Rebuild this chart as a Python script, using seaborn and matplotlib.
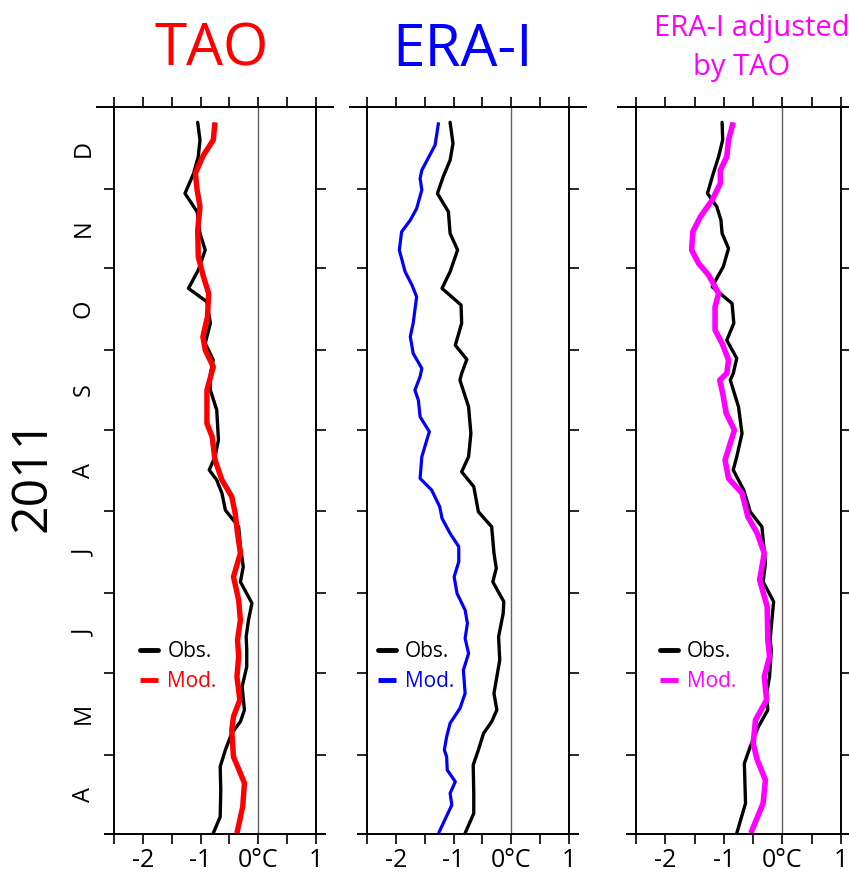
import numpy as np
import pandas as pd
import matplotlib
matplotlib.use("Agg")
import matplotlib.pyplot as plt
import seaborn as sns

# ----------------------------------------------------------
# DATA  (y = days since 1 Apr 2011, x = SST anomaly in degC)
# ----------------------------------------------------------

tao_obs_day = [0.3, 6.5, 16.6, 25.5, 31.8, 38.1, 42.5, 46.9, 55.7, 63.3, 69.6,
               74.6, 80.9, 87.3, 95.4, 101.1, 108.7, 116.2, 122.5, 128.9, 133.9,
               137.7, 142.7, 149.0, 160.4, 167.9, 174.2, 179.3, 185.6, 193.2,
               201.3, 206.4, 213.3, 220.9, 227.2, 235.4, 242.3, 249.9, 256.2,
               262.5, 269.2]
tao_obs_val = [-0.78, -0.66, -0.65, -0.66, -0.57, -0.46, -0.31, -0.24, -0.28,
               -0.20, -0.20, -0.21, -0.17, -0.11, -0.31, -0.26, -0.31, -0.34,
               -0.57, -0.63, -0.72, -0.85, -0.75, -0.69, -0.72, -0.83, -0.83,
               -0.78, -0.92, -0.83, -0.89, -1.21, -1.04, -0.92, -1.01, -1.06,
               -1.27, -1.12, -1.04, -1.01, -1.05]

tao_mod_day = [0.3, 10.3, 19.2, 23.0, 29.2, 39.3, 44.4, 50.7, 59.5, 67.1, 73.4,
               80.9, 88.5, 97.3, 106.2, 113.7, 121.3, 127.6, 133.9, 141.5, 150.3,
               155.3, 167.9, 176.7, 183.1, 188.1, 195.7, 204.5, 210.8, 218.3,
               228.4, 237.3, 243.6, 249.9, 256.8, 262.5, 269.2]
tao_mod_val = [-0.37, -0.27, -0.24, -0.31, -0.43, -0.46, -0.43, -0.32, -0.37,
               -0.34, -0.36, -0.31, -0.34, -0.43, -0.31, -0.36, -0.40, -0.46,
               -0.63, -0.75, -0.80, -0.89, -0.89, -0.78, -0.92, -0.96, -0.88,
               -0.86, -0.95, -1.04, -1.05, -1.01, -1.06, -1.09, -0.95, -0.78,
               -0.75]

era_obs_day = [0.3, 7.8, 15.4, 26.1, 31.8, 38.1, 42.5, 46.9, 53.2, 59.5, 65.8,
               74.6, 83.5, 87.9, 95.4, 100.5, 106.2, 116.2, 121.9, 131.4, 137.0,
               142.7, 151.5, 161.6, 171.7, 174.2, 179.5, 184.9, 193.2, 200.1,
               206.4, 212.7, 220.9, 227.2, 235.4, 242.3, 248.6, 254.9, 261.2,
               269.2]
era_obs_val = [-0.80, -0.65, -0.65, -0.66, -0.57, -0.48, -0.34, -0.25, -0.30,
               -0.25, -0.20, -0.22, -0.14, -0.13, -0.32, -0.26, -0.30, -0.34,
               -0.57, -0.65, -0.86, -0.74, -0.70, -0.74, -0.89, -0.86, -0.77,
               -0.97, -0.86, -0.87, -1.20, -1.06, -0.93, -1.06, -1.09, -1.28,
               -1.18, -1.06, -1.01, -1.06]

era_mod_day = [0.3, 4.0, 11.0, 15.4, 19.8, 24.2, 29.2, 31.8, 36.8, 41.9, 47.5,
               53.2, 62.0, 68.3, 74.0, 79.7, 84.7, 91.0, 97.3, 103.0, 108.7,
               113.7, 119.4, 123.8, 130.1, 134.5, 142.7, 152.2, 157.8, 164.1,
               167.9, 173.0, 176.1, 181.8, 188.1, 193.2, 203.2, 207.6, 212.7,
               220.9, 227.8, 232.2, 236.6, 243.6, 248.0, 251.1, 260.6, 269.2]
era_mod_val = [-1.26, -1.18, -1.03, -1.06, -0.97, -1.11, -1.12, -1.16, -1.12,
               -1.06, -0.89, -0.80, -0.83, -0.74, -0.80, -0.76, -0.80, -0.94,
               -0.99, -0.91, -0.91, -1.06, -1.20, -1.24, -1.38, -1.58, -1.55,
               -1.42, -1.58, -1.61, -1.67, -1.58, -1.55, -1.70, -1.75, -1.70,
               -1.64, -1.72, -1.84, -1.94, -1.90, -1.75, -1.64, -1.55, -1.58,
               -1.55, -1.32, -1.26]

adj_obs_day = [0.3, 11.6, 26.7, 33.0, 40.6, 46.9, 53.2, 59.5, 69.6, 73.4, 80.9,
               87.9, 95.4, 102.4, 116.2, 121.9, 130.1, 137.7, 142.7, 151.5,
               161.6, 171.7, 174.2, 179.9, 186.8, 193.2, 200.7, 207.0, 214.6,
               221.5, 227.2, 232.2, 237.3, 242.3, 249.9, 256.2, 262.5, 269.2]
adj_obs_val = [-0.78, -0.63, -0.65, -0.55, -0.41, -0.25, -0.27, -0.22, -0.19,
               -0.21, -0.18, -0.15, -0.33, -0.29, -0.35, -0.55, -0.66, -0.84,
               -0.78, -0.69, -0.75, -0.89, -0.84, -0.78, -0.95, -0.83, -0.86,
               -1.20, -1.01, -0.92, -1.03, -1.05, -1.12, -1.28, -1.18, -1.09,
               -1.02, -1.03]

adj_mod_day = [0.3, 11.6, 20.4, 28.0, 34.3, 43.1, 50.7, 59.5, 67.1, 73.4, 86.0,
               96.1, 106.2, 113.7, 120.0, 128.9, 134.5, 141.5, 152.8, 159.1,
               166.7, 171.7, 174.2, 179.3, 185.6, 190.6, 199.4, 204.5, 211.4,
               215.8, 220.9, 227.8, 233.5, 239.8, 246.1, 251.1, 256.2, 262.5,
               269.2]
adj_mod_val = [-0.54, -0.33, -0.29, -0.43, -0.50, -0.46, -0.27, -0.31, -0.22,
               -0.25, -0.26, -0.39, -0.31, -0.43, -0.59, -0.69, -0.92, -0.98,
               -0.82, -0.96, -1.02, -1.07, -0.95, -0.92, -1.03, -1.15, -1.15,
               -1.09, -1.26, -1.43, -1.55, -1.53, -1.40, -1.20, -1.06, -1.06,
               -0.95, -0.92, -0.84]

month_labels = ["A", "M", "J", "J", "A", "S", "O", "N", "D"]
x_major = [-2, -1, 0, 1]
x_labels = ["-2", "-1", "0°C", "1"]
x_minor = [-2.5, -1.5, -0.5, 0.5]

# month edges in days since 1 Apr 2011
edges = pd.date_range("2011-04-01", "2012-01-01", freq="MS")
month_edges = np.array((edges - edges[0]).days)
month_mid = (month_edges[:-1] + month_edges[1:]) / 2

# ----------------------------------------------------------
# FIGURE
# ----------------------------------------------------------

sns.set_style("white")
plt.rcParams["font.family"] = ["Open Sans", "DejaVu Sans"]
plt.rcParams["text.color"] = "black"
plt.rcParams["xtick.labelcolor"] = "black"
plt.rcParams["ytick.labelcolor"] = "black"

fig = plt.figure(figsize=(8.49, 8.75), dpi=100)

W, H = 849, 875
panels = [
    # left px, width px, obs, mod, colour, mod lw, legend x
    (114, 202, (tao_obs_day, tao_obs_val), (tao_mod_day, tao_mod_val), "#ff0000", 3.9, 0.13),
    (367, 202, (era_obs_day, era_obs_val), (era_mod_day, era_mod_val), "#0000ff", 2.3, 0.055),
    (636, 205, (adj_obs_day, adj_obs_val), (adj_mod_day, adj_mod_val), "#ff00ff", 4.0, 0.117),
]

axes = []
for i, (left, width, obs, mod, col, mlw, legx) in enumerate(panels):
    ax = fig.add_axes([left / W, 41 / H, width / W, 727 / H])
    axes.append(ax)

    ax.axvline(0, color="#606060", lw=1.0, zorder=1)

    sns.lineplot(x=obs[1], y=obs[0], orient="y", sort=False, estimator=None,
                 color="black", lw=2.4, label="Obs.", ax=ax)
    sns.lineplot(x=mod[1], y=mod[0], orient="y", sort=False, estimator=None,
                 color=col, lw=mlw, label="Mod.", ax=ax,
                 solid_joinstyle="round", solid_capstyle="butt")

    ax.set_xlim(-2.5, 1)
    ax.set_ylim(0, 275)
    ax.set_xlabel("")
    ax.set_ylabel("")

    ax.set_xticks(x_major)
    ax.set_xticklabels(x_labels)
    ax.set_xticks(x_minor, minor=True)
    ax.tick_params(axis="x", which="both", direction="out", length=7, width=1.2,
                   top=True, bottom=True, labeltop=False, labelsize=18, pad=3,
                   color="black", labelcolor="black")

    ax.set_yticks(month_edges[1:-1])
    ax.set_yticklabels([])
    ax.tick_params(axis="y", which="major", direction="out", length=7, width=1.2,
                   left=True, right=True, color="black")

    if i == 0:
        ax.set_yticks(month_mid, minor=True)
        ax.set_yticklabels(month_labels, minor=True, rotation=90, va="center")
        ax.tick_params(axis="y", which="minor", length=0, pad=13, labelsize=17,
                       labelcolor="black")

    for s in ax.spines.values():
        s.set_linewidth(1.4)
        s.set_color("black")
    ax.spines["top"].set_bounds(-2.8, 1.3)
    ax.spines["bottom"].set_bounds(-2.65, 1.15)

    leg = ax.legend(loc="center left", bbox_to_anchor=(legx, 0.23), frameon=False,
                    fontsize=15, handlelength=0.85, handletextpad=0.45,
                    labelspacing=0.45, borderpad=0, borderaxespad=0,
                    labelcolor="linecolor")
    for h in leg.get_lines():
        h.set_linewidth(3.5)

# ----------------------------------------------------------
# TITLES
# ----------------------------------------------------------

fig.text(212 / W, 1 - 66 / H, "TAO", color="#ff0000", fontsize=42,
         ha="center", va="baseline")
fig.text(462 / W, 1 - 66 / H, "ERA-I", color="#0000ff", fontsize=42,
         ha="center", va="baseline")
fig.text(752 / W, 1 - 36 / H, "ERA-I adjusted", color="#ff00ff", fontsize=21,
         ha="center", va="baseline")
fig.text(742 / W, 1 - 75 / H, "by TAO", color="#ff00ff", fontsize=21,
         ha="center", va="baseline")

fig.text(33 / W, 1 - 475 / H, "2011", rotation=90, fontsize=36, color="black",
         ha="center", va="center")

plt.savefig("out.png", dpi=100)
plt.close()
